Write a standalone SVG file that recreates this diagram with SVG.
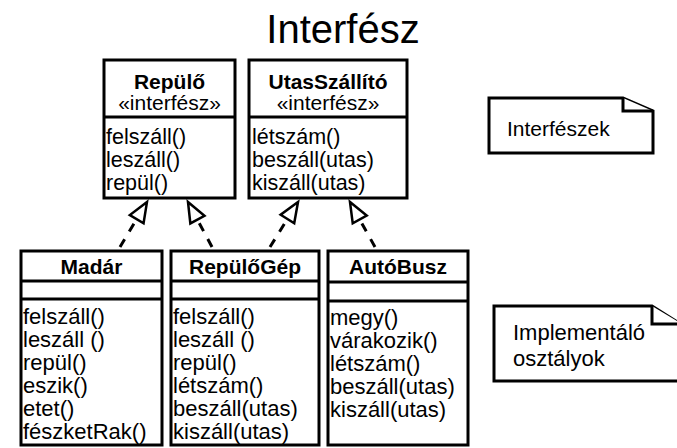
<svg xmlns="http://www.w3.org/2000/svg" width="677" height="448" viewBox="0 0 677 448">
<style>
text{font-family:"Liberation Sans",Arial,sans-serif;fill:#000}
.t{font-size:40px;text-anchor:middle}
.h{font-size:21px;font-weight:bold;text-anchor:middle}
.s{font-size:21px;text-anchor:middle}
.m{font-size:21.5px}
.b{font-size:22px}
.box{fill:#fff;stroke:#000;stroke-width:3}
.div{stroke:#000;stroke-width:3}
.dash{fill:none;stroke:#000;stroke-width:3;stroke-dasharray:9 9}
.note{fill:#fff;stroke:#000;stroke-width:3;stroke-linejoin:miter}
</style>
<defs>
<marker id="real" markerUnits="userSpaceOnUse" viewBox="-24 -11 27 22" markerWidth="27" markerHeight="22" refX="0" refY="0" orient="auto">
<path d="M0,0 L-20,-8 L-20,8 Z" fill="#fff" stroke="#000" stroke-width="2.5" stroke-dasharray="none" stroke-linejoin="miter"/>
</marker>
</defs>
<rect width="677" height="448" fill="#fff"/>
<text class="t" x="343" y="43">Interfész</text>

<g id="connectors">
<line class="dash" x1="120" y1="247" x2="147" y2="202" marker-end="url(#real)"/>
<line class="dash" x1="212" y1="247" x2="188" y2="202" marker-end="url(#real)"/>
<line class="dash" x1="270" y1="247" x2="298" y2="202" marker-end="url(#real)"/>
<line class="dash" x1="375" y1="247" x2="350" y2="202" marker-end="url(#real)"/>
</g>

<g id="repulo">
<rect class="box" x="104" y="60" width="131" height="138"/>
<line class="div" x1="104" y1="117" x2="235" y2="117"/>
<text class="h" x="169.5" y="89">Repülő</text>
<text class="s" x="169.5" y="110">«interfész»</text>
<text class="m" x="106" y="144">felszáll()</text>
<text class="m" x="106" y="167">leszáll()</text>
<text class="m" x="106" y="190">repül()</text>
</g>

<g id="utasszallito">
<rect class="box" x="249" y="60" width="158" height="138"/>
<line class="div" x1="249" y1="117" x2="407" y2="117"/>
<text class="h" x="328" y="89">UtasSzállító</text>
<text class="s" x="328" y="110">«interfész»</text>
<text class="m" x="252" y="144">létszám()</text>
<text class="m" x="252" y="167">beszáll(utas)</text>
<text class="m" x="252" y="190">kiszáll(utas)</text>
</g>

<g id="madar">
<rect class="box" x="21" y="251" width="141" height="194"/>
<line class="div" x1="21" y1="281" x2="162" y2="281"/>
<line class="div" x1="21" y1="299" x2="162" y2="299"/>
<text class="h" x="91.5" y="274">Madár</text>
<text class="b" x="23" y="324">felszáll()</text>
<text class="b" x="23" y="347">leszáll ()</text>
<text class="b" x="23" y="370">repül()</text>
<text class="b" x="23" y="393">eszik()</text>
<text class="b" x="23" y="416">etet()</text>
<text class="b" x="23" y="439">fészketRak()</text>
</g>

<g id="repulogep">
<rect class="box" x="171" y="251" width="148" height="194"/>
<line class="div" x1="171" y1="281" x2="319" y2="281"/>
<line class="div" x1="171" y1="299" x2="319" y2="299"/>
<text class="h" x="245" y="274">RepülőGép</text>
<text class="b" x="173" y="324">felszáll()</text>
<text class="b" x="173" y="347">leszáll ()</text>
<text class="b" x="173" y="370">repül()</text>
<text class="b" x="173" y="393">létszám()</text>
<text class="b" x="173" y="416">beszáll(utas)</text>
<text class="b" x="173" y="439">kiszáll(utas)</text>
</g>

<g id="autobusz">
<rect class="box" x="328" y="251" width="140" height="194"/>
<line class="div" x1="328" y1="282" x2="468" y2="282"/>
<line class="div" x1="328" y1="301" x2="468" y2="301"/>
<text class="h" x="398" y="274">AutóBusz</text>
<text class="b" x="330" y="325">megy()</text>
<text class="b" x="330" y="348">várakozik()</text>
<text class="b" x="330" y="371">létszám()</text>
<text class="b" x="330" y="394">beszáll(utas)</text>
<text class="b" x="330" y="417">kiszáll(utas)</text>
</g>

<g id="note-interfeszek">
<path class="note" d="M489,98 L623,98 L653,111 L653,153 L489,153 Z"/>
<path class="note" d="M623,98 L623,111 L653,111"/>
<text x="507" y="136" style="font-size:21px">Interfészek</text>
</g>

<g id="note-implementalo">
<path class="note" d="M494,306 L652,306 L682,325 L682,381 L494,381 Z"/>
<path class="note" d="M652,306 L652,324 L682,324"/>
<text class="b" x="513" y="340">Implementáló</text>
<text class="b" x="513" y="366">osztályok</text>
</g>
</svg>
